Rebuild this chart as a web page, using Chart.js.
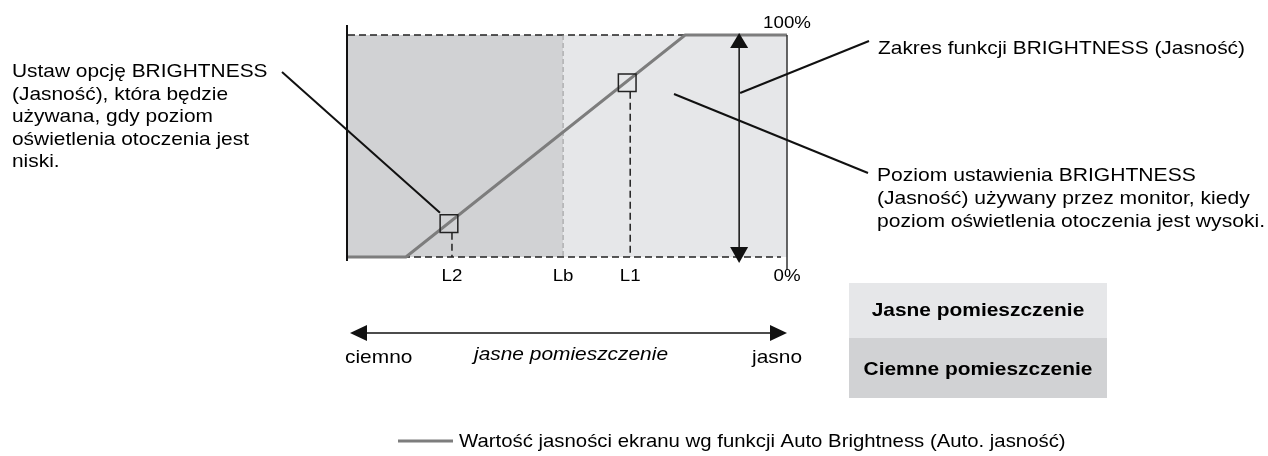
<!DOCTYPE html>
<html>
<head>
<meta charset="utf-8">
<script src="https://cdn.jsdelivr.net/npm/chart.js@4/dist/chart.umd.min.js"></script>
<style>
html,body{margin:0;padding:0;background:#fff;}
#wrap{width:1268px;height:456px;}
</style>
</head>
<body>
<div id="wrap"><canvas id="c" width="1268" height="456"></canvas></div>
<script>
// ---- data ----
const ambientLevel = [0, 13.2, 76.8, 100];        // x: ambient light (%)
const screenBrightness = [0, 0, 100, 100];        // y: brightness (%)
const markerLabels = ['L2', 'Lb', 'L1'];
const markerValues = [23.0, 49, 63.6];
const boxBrightness = [15, 78.5];                 // brightness at L2 and L1
const yTickLabels = ['100%', '0%'];
const yTickValues = [100, 0];
const roomLabels = ['Jasne pomieszczenie', 'Ciemne pomieszczenie'];
const axisWords = ['ciemno', 'jasne pomieszczenie', 'jasno'];
const leftNote = ['Ustaw opcję BRIGHTNESS', '(Jasność), która będzie', 'używana, gdy poziom', 'oświetlenia otoczenia jest', 'niski.'];
const rangeNote = ['Zakres funkcji BRIGHTNESS (Jasność)'];
const highNote = ['Poziom ustawienia BRIGHTNESS', '(Jasność) używany przez monitor, kiedy', 'poziom oświetlenia otoczenia jest wysoki.'];
const legendText = 'Wartość jasności ekranu wg funkcji Auto Brightness (Auto. jasność)';

const DARK = '#d1d2d4', LIGHT = '#e6e7e9', LINE = '#7d7d7d', INK = '#111';
const FONT = '"Liberation Sans", Arial, Helvetica, sans-serif';
const HS = 1.1;

function txt(ctx, s, x, y, size, align, style, hs) {
  ctx.save();
  ctx.font = (style || '') + ' ' + size + 'px ' + FONT;
  ctx.fillStyle = '#000';
  ctx.textAlign = align || 'left';
  ctx.textBaseline = 'alphabetic';
  ctx.translate(x, y);
  ctx.scale(hs || HS, 1);
  ctx.fillText(s, 0, 0);
  ctx.restore();
}
function seg(ctx, x1, y1, x2, y2, color, w, dash) {
  ctx.save();
  ctx.beginPath();
  ctx.strokeStyle = color; ctx.lineWidth = w;
  ctx.setLineDash(dash || []);
  ctx.moveTo(x1, y1); ctx.lineTo(x2, y2); ctx.stroke();
  ctx.restore();
}
function tri(ctx, pts) {
  ctx.save();
  ctx.beginPath();
  ctx.fillStyle = INK;
  ctx.moveTo(pts[0][0], pts[0][1]);
  ctx.lineTo(pts[1][0], pts[1][1]);
  ctx.lineTo(pts[2][0], pts[2][1]);
  ctx.closePath(); ctx.fill();
  ctx.restore();
}

const deco = {
  id: 'deco',
  beforeDatasetsDraw(chart) {
    const ctx = chart.ctx, xs = chart.scales.x, ys = chart.scales.y;
    const x0 = xs.getPixelForValue(0), x100 = xs.getPixelForValue(100);
    const y0 = ys.getPixelForValue(0), y100 = ys.getPixelForValue(100);
    const xb = xs.getPixelForValue(markerValues[1]);
    ctx.save();
    ctx.fillStyle = DARK; ctx.fillRect(x0, y100, xb - x0, y0 - y100);
    ctx.fillStyle = LIGHT; ctx.fillRect(xb, y100, x100 - xb, y0 - y100);
    ctx.restore();
    seg(ctx, x0, y100, x100, y100, '#222', 1.5, [7, 4]);
    seg(ctx, x0, y0, x100 - 6, y0, '#222', 1.5, [7, 4]);
    seg(ctx, xb, y100, xb, y0, '#9a9a9a', 1, [5, 3]);
    const drops = [[markerValues[0], boxBrightness[0]], [markerValues[2], boxBrightness[1]]];
    drops.forEach(d => {
      const px = xs.getPixelForValue(d[0]) + 3, py = ys.getPixelForValue(d[1]) + 9;
      seg(ctx, px, py, px, y0, '#222', 1.5, [7, 4]);
    });
    ctx.save();
    ctx.fillStyle = LIGHT; ctx.fillRect(849, 283, 258, 55);
    ctx.fillStyle = DARK; ctx.fillRect(849, 338, 258, 60);
    ctx.restore();
  },
  afterDatasetsDraw(chart) {
    const ctx = chart.ctx, xs = chart.scales.x, ys = chart.scales.y;
    const x0 = xs.getPixelForValue(0), x100 = xs.getPixelForValue(100);
    const y0 = ys.getPixelForValue(0), y100 = ys.getPixelForValue(100);
    seg(ctx, x0 - 1, y100 - 10, x0 - 1, y0 + 4, INK, 2);
    seg(ctx, x100, y100, x100, y0 + 13, '#333', 1.5);
    const xa = xs.getPixelForValue(89.1);
    seg(ctx, xa, y100 + 8, xa, y0 - 8, INK, 1.5);
    tri(ctx, [[xa, y100 - 2], [xa - 9, y100 + 13], [xa + 9, y100 + 13]]);
    tri(ctx, [[xa, y0 + 6], [xa - 9, y0 - 10], [xa + 9, y0 - 10]]);
    const b2x = xs.getPixelForValue(markerValues[0]) - 9, b2y = ys.getPixelForValue(boxBrightness[0]) - 11;
    seg(ctx, 282, 72, b2x, b2y, INK, 2);
    seg(ctx, xa + 1, 93, 869, 41, INK, 2);
    seg(ctx, 674, 94, 868, 173, INK, 2);
    markerLabels.forEach((l, i) => {
      const px = xs.getPixelForValue(markerValues[i]) + (i === 1 ? 0 : 3);
      txt(ctx, l, px, 281, 17, 'center');
    });
    yTickLabels.forEach((l, i) => {
      const py = ys.getPixelForValue(yTickValues[i]);
      txt(ctx, l, x100, i === 0 ? py - 7 : py + 24, 17, 'center');
    });
    leftNote.forEach((l, i) => txt(ctx, l, 12, 77 + i * 22.5, 19, 'left'));
    rangeNote.forEach((l, i) => txt(ctx, l, 878, 54 + i * 23, 19, 'left'));
    highNote.forEach((l, i) => txt(ctx, l, 877, 181 + i * 23, 19, 'left', '', 1.11));
    txt(ctx, roomLabels[0], 978, 316, 19, 'center', 'bold');
    txt(ctx, roomLabels[1], 978, 375, 19, 'center', 'bold');
    const ya = 333;
    seg(ctx, x0 + 14, ya, x100 - 14, ya, INK, 1.5);
    tri(ctx, [[x0 + 2, ya], [x0 + 19, ya - 8], [x0 + 19, ya + 8]]);
    tri(ctx, [[x100, ya], [x100 - 17, ya - 8], [x100 - 17, ya + 8]]);
    txt(ctx, axisWords[0], x0 - 3, 363, 19, 'left');
    txt(ctx, axisWords[1], 571, 360, 19, 'center', 'italic');
    txt(ctx, axisWords[2], x100 + 15, 363, 19, 'right');
    seg(ctx, 398, 441, 453, 441, LINE, 3);
    txt(ctx, legendText, 459, 447, 18.5, 'left', '', 1.1);
  }
};

const points = ambientLevel.map((x, i) => ({ x: x, y: screenBrightness[i] }));
const boxes = [
  { x: markerValues[0], y: boxBrightness[0] },
  { x: markerValues[2], y: boxBrightness[1] }
];

new Chart(document.getElementById('c'), {
  type: 'scatter',
  data: {
    datasets: [
      {
        label: 'boxes', data: boxes, showLine: false, order: 0,
        pointStyle: 'rect', pointRadius: 12.5, pointHoverRadius: 12.5,
        pointBackgroundColor: 'rgba(0,0,0,0)', pointBorderColor: '#222', pointBorderWidth: 1.5
      },
      {
        label: legendText, data: points, showLine: true, order: 1,
        borderColor: LINE, borderWidth: 3, pointRadius: 0, fill: false, tension: 0,
        clip: 10
      }
    ]
  },
  options: {
    responsive: false, animation: false, devicePixelRatio: 1,
    layout: { padding: { left: 348, right: 481, top: 35, bottom: 199 } },
    scales: {
      x: { type: 'linear', min: 0, max: 100, display: false },
      y: { type: 'linear', min: 0, max: 100, display: false }
    },
    plugins: { legend: { display: false }, tooltip: { enabled: false } },
    events: []
  },
  plugins: [deco]
});
</script>
</body>
</html>
